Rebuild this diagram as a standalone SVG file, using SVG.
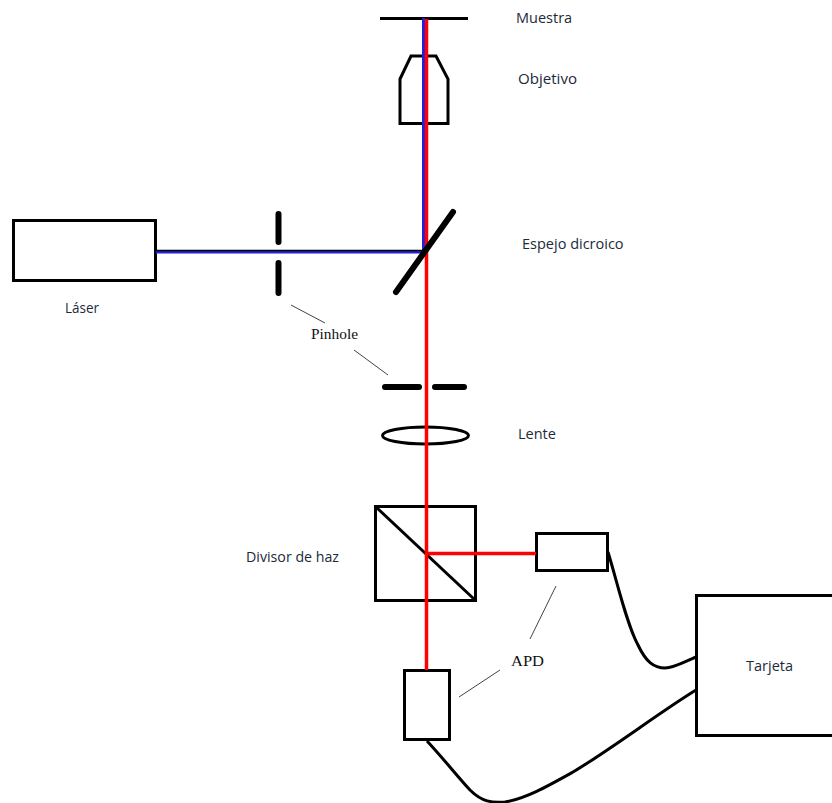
<svg xmlns="http://www.w3.org/2000/svg" width="832" height="803" viewBox="0 0 832 803">
<style>
.k{fill:none;stroke:#000;stroke-width:3}
.t{fill:none;stroke:#000;stroke-width:6;stroke-linecap:round}
.n{fill:none;stroke:#444;stroke-width:1}
.r{fill:none;stroke:#f00;stroke-width:3.500}
.b{fill:none;stroke:#2020e0;stroke-width:3}
.s{font-family:"Open Sans","Noto Sans",sans-serif;font-size:14.500px;fill:#1c2a3a}
.f{font-family:"Liberation Serif",serif;font-size:15.500px;fill:#111}
</style>
<rect width="832" height="803" fill="#fff"/>
<g id="muestra"><path class="k" d="M380 18.500H468"/><text class="s" x="516" y="22.500">Muestra</text></g>
<g id="objetivo"><path class="k" d="M400 79L411 56H436L448 79V123.500H400Z"/><text class="s" x="518" y="83.500" textLength="59" lengthAdjust="spacingAndGlyphs">Objetivo</text></g>
<g id="laser"><rect class="k" x="13.500" y="220.500" width="142" height="60"/><text class="s" x="65" y="313" textLength="34" lengthAdjust="spacingAndGlyphs">Láser</text></g>
<g id="lente"><ellipse class="k" cx="425.500" cy="435.500" rx="43" ry="8.500"/><text class="s" x="518" y="439">Lente</text></g>
<g id="divisor"><rect class="k" x="375.500" y="506.500" width="100" height="94"/><path class="k" d="M377 508L474 599"/><text class="s" x="246" y="562" textLength="93" lengthAdjust="spacingAndGlyphs">Divisor de haz</text></g>
<g id="apd1"><rect class="k" x="536.500" y="533.500" width="71" height="37"/></g>
<g id="apd2"><rect class="k" x="404.500" y="670.500" width="45" height="69"/></g>
<g id="tarjeta"><rect class="k" x="696.500" y="595.500" width="140" height="140"/><text class="s" x="746" y="671">Tarjeta</text></g>
<g id="connectors">
<path class="b" d="M423.500 18V252H156"/>
<path class="r" d="M426.500 19V670"/>
<path class="r" d="M426.500 553.500H536"/>
<path class="k" style="stroke-width:1.500" d="M156 250.500H423"/>
<path class="k" d="M608 552C618 585 627 625 638 645C646 662 654 668 665 668C674 668 684 662 696 657"/>
<path class="k" d="M427 741C442 757 458 777 470 790C482 802 492 803 505 802C525 799 548 786 573 772C610 750 660 712 696 690"/>
</g>
<g id="espejo"><path class="t" d="M396 292L453 212"/><text class="s" x="522" y="249">Espejo dicroico</text></g>
<g id="pinhole1"><path class="t" d="M278.500 214V242M278.500 263V293"/></g>
<g id="pinhole2"><path class="t" d="M385 387H419M435 387H464"/></g>
<g id="pinhole-label"><text class="f" x="311" y="339" textLength="47" lengthAdjust="spacingAndGlyphs">Pinhole</text><path class="n" d="M291 305L325 323M354 350L388 375"/></g>
<g id="apd-label"><text class="f" x="511" y="666" textLength="33" lengthAdjust="spacingAndGlyphs">APD</text><path class="n" d="M556 586L530 639M500 670L459 697"/></g>
</svg>
